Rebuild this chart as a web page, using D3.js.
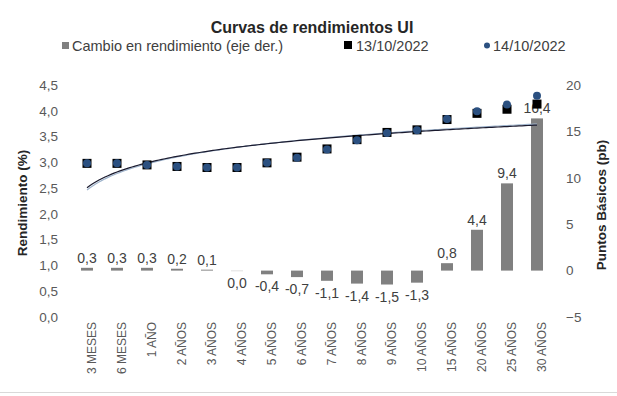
<!DOCTYPE html>
<html>
<head>
    <meta charset="utf-8">
    <title>Curvas de rendimientos UI</title>
    <script src="https://cdnjs.cloudflare.com/ajax/libs/d3/7.8.5/d3.min.js"></script>
    <style type="text/css">
        html, body {
            margin: 0;
            padding: 0;
            background: white;
            font-family: 'Liberation Sans', Arial, sans-serif;
        }
        .tick-label {
            font-size: 13.5px;
            fill: #595959;
        }
        .cat-label {
            font-size: 12px;
            fill: #595959;
        }
        .data-label {
            font-size: 14px;
            fill: #404040;
        }
        .legend text {
            font-size: 14.5px;
            fill: #404040;
        }
    </style>
</head>
<body>
    <svg id="chart" width="617" height="396"></svg>
    <script type="text/javascript">
        // plazos
        var categories = ["3 MESES", "6 MESES", "1 AÑO", "2 AÑOS", "3 AÑOS", "4 AÑOS", "5 AÑOS", "6 AÑOS",
            "7 AÑOS", "8 AÑOS", "9 AÑOS", "10 AÑOS", "15 AÑOS", "20 AÑOS", "25 AÑOS", "30 AÑOS"];

        // rendimientos (%)
        var yield1310 = [2.98, 2.98, 2.95, 2.92, 2.90, 2.90, 2.99, 3.10, 3.26, 3.44, 3.58, 3.63, 3.83, 3.95, 4.03, 4.13];
        var yield1410 = [2.98, 2.98, 2.95, 2.92, 2.90, 2.90, 2.99, 3.09, 3.25, 3.43, 3.57, 3.62, 3.84, 3.99, 4.12, 4.29];

        // cambio en rendimiento (pb, eje der.)
        var change = [0.3, 0.3, 0.3, 0.2, 0.1, 0.0, -0.4, -0.7, -1.1, -1.4, -1.5, -1.3, 0.8, 4.4, 9.4, 16.4];

        var leftTicks = [0, 0.5, 1, 1.5, 2, 2.5, 3, 3.5, 4, 4.5];
        var rightTicks = [-5, 0, 5, 10, 15, 20];

        var svg = d3.select("#chart");
        var comma = function(v, digits) { return v.toFixed(digits).replace(".", ","); };

        var x = d3.scalePoint().domain(categories).range([72, 552]).padding(0.5),
            yLeft = d3.scaleLinear().domain([0, 4.5]).range([317, 85]),
            yRight = d3.scaleLinear().domain([-5, 20]).range([317, 85]),
            barW = 12;

        // title
        svg.append("text")
            .attr("x", 312).attr("y", 33)
            .attr("text-anchor", "middle")
            .style("font-size", "16px").style("font-weight", "bold").style("fill", "#262626")
            .text("Curvas de rendimientos UI");

        // legend
        var legend = svg.append("g").attr("class", "legend");
        legend.append("rect").attr("x", 62).attr("y", 42).attr("width", 7).attr("height", 7).attr("fill", "#808080");
        legend.append("text").attr("x", 72).attr("y", 51).text("Cambio en rendimiento (eje der.)");
        legend.append("rect").attr("x", 344).attr("y", 41).attr("width", 8).attr("height", 8).attr("fill", "#000");
        legend.append("text").attr("x", 356).attr("y", 51).text("13/10/2022");
        legend.append("circle").attr("cx", 487).attr("cy", 45.5).attr("r", 3).attr("fill", "#2b5080");
        legend.append("text").attr("x", 493).attr("y", 51).text("14/10/2022");

        // axes (labels only, no lines)
        var axisL = svg.append("g").attr("transform", "translate(62,0)")
            .call(d3.axisLeft(yLeft).tickValues(leftTicks).tickSize(0).tickPadding(4)
                .tickFormat(function(d) { return comma(d, 1); }));
        var axisR = svg.append("g").attr("transform", "translate(562,0)")
            .call(d3.axisRight(yRight).tickValues(rightTicks).tickSize(0).tickPadding(4));
        var axisX = svg.append("g").attr("transform", "translate(4,322)")
            .call(d3.axisBottom(x).tickSize(0).tickPadding(0));
        [axisL, axisR, axisX].forEach(function(a) {
            a.select(".domain").remove();
            a.selectAll("text").attr("class", "tick-label").attr("font-family", null).attr("font-size", null);
        });
        axisX.selectAll("text")
            .attr("class", "cat-label")
            .attr("transform", "rotate(-90)")
            .attr("text-anchor", "end")
            .attr("x", 0).attr("y", 0).attr("dy", "0.35em");

        // axis titles
        svg.append("text")
            .attr("transform", "translate(27,203) rotate(-90)")
            .attr("text-anchor", "middle")
            .style("font-size", "13.5px").style("font-weight", "bold").style("fill", "#262626")
            .text("Rendimiento (%)");
        svg.append("text")
            .attr("transform", "translate(606,205) rotate(-90)")
            .attr("text-anchor", "middle")
            .style("font-size", "13.5px").style("font-weight", "bold").style("fill", "#262626")
            .text("Puntos Básicos (pb)");

        // bars
        svg.append("g").selectAll("rect")
            .data(change)
            .join("rect")
            .attr("x", function(d, i) { return x(categories[i]) - barW / 2; })
            .attr("y", function(d) { return yRight(Math.max(d, 0)); })
            .attr("width", barW)
            .attr("height", function(d) { return Math.max(Math.abs(yRight(d) - yRight(0)), 0.6); })
            .attr("fill", "#808080")
            .attr("fill-opacity", function(d) { return d === 0 ? 0.4 : 1; });

        svg.append("g").selectAll("text")
            .data(change)
            .join("text")
            .attr("class", "data-label")
            .attr("text-anchor", "middle")
            .attr("x", function(d, i) { return x(categories[i]); })
            .attr("y", function(d) { return d > 0 ? yRight(d) - 5 : yRight(d) + 17; })
            .text(function(d) { return comma(d, 1); });

        // logarithmic trend lines (least squares on ln(position))
        function logFit(values) {
            var lx = values.map(function(v, i) { return Math.log(i + 1); }),
                mx = d3.mean(lx), my = d3.mean(values),
                b = d3.sum(values, function(v, i) { return (lx[i] - mx) * (v - my); }) /
                    d3.sum(lx, function(l) { return (l - mx) * (l - mx); });
            return { a: my - b * mx, b: b };
        }
        var fine = d3.range(0, categories.length - 1 + 0.001, 0.1),
            step = x.step(),
            x0 = x(categories[0]);
        [[yield1410, "#9fb4cc", 0.8], [yield1310, "#1a1a2e", 0]].forEach(function(s) {
            var fit = logFit(s[0]);
            svg.append("path")
                .datum(fine)
                .attr("fill", "none")
                .attr("stroke", s[1])
                .attr("stroke-width", 1.2)
                .attr("d", d3.line()
                    .x(function(t) { return x0 + t * step; })
                    .y(function(t) { return yLeft(fit.a + fit.b * Math.log(t + 1)) + s[2]; }));
        });

        // markers
        svg.append("g").selectAll("rect")
            .data(yield1310)
            .join("rect")
            .attr("x", function(d, i) { return x(categories[i]) - 4.5; })
            .attr("y", function(d) { return yLeft(d) - 4.5; })
            .attr("width", 9).attr("height", 9)
            .attr("fill", "#000");
        svg.append("g").selectAll("circle")
            .data(yield1410)
            .join("circle")
            .attr("cx", function(d, i) { return x(categories[i]); })
            .attr("cy", function(d) { return yLeft(d); })
            .attr("r", 4)
            .attr("fill", "#2b5080");

        // bottom border
        svg.append("line")
            .attr("x1", 0).attr("x2", 617).attr("y1", 392.5).attr("y2", 392.5)
            .attr("stroke", "#d9d9d9");
    </script>
</body>
</html>
